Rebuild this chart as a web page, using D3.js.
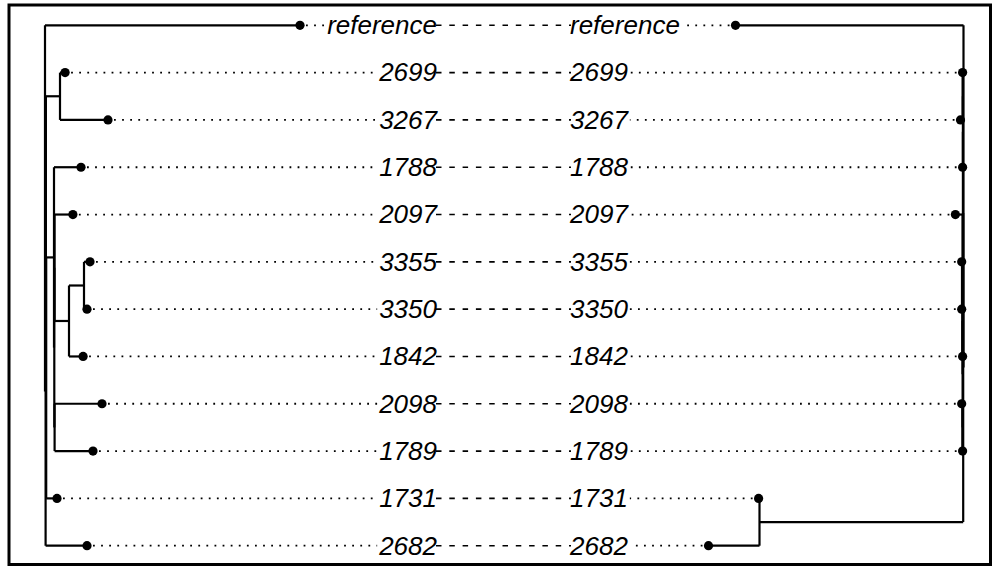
<!DOCTYPE html>
<html>
<head>
<meta charset="utf-8">
<script src="https://cdn.jsdelivr.net/npm/d3@7"></script>
<style>
  body { margin: 0; background: #fff; }
  svg { display: block; }
  .lbl { font-family: "Liberation Sans", Arial, sans-serif; font-style: italic; font-size: 26px; fill: #000; }
</style>
</head>
<body>
<svg id="plot" width="999" height="566"></svg>
<script>

// leaf labels, top to bottom (same order in both trees)
var labels = ["reference", "2699", "3267", "1788", "2097", "3355",
              "3350", "1842", "2098", "1789", "1731", "2682"];

// left tree: [id, parent, distance from root]
var leftNodes = [
    ["L0", null, 0],
    ["reference", "L0", 0.085],
    ["L1", "L0", 0.0002],
    ["L2", "L1", 0.0003],
    ["2682", "L1", 0.014],
    ["LA", "L2", 0.005],
    ["2699", "LA", 0.0067],
    ["3267", "LA", 0.021],
    ["LX", "L2", 0.0004],
    ["LB", "LX", 0.003],
    ["1731", "LX", 0.004],
    ["1788", "LB", 0.012],
    ["LB2", "LB", 0.0031],
    ["LB3", "LB2", 0.0032],
    ["2097", "LB3", 0.0093],
    ["LC", "LB3", 0.008],
    ["LC1", "LC", 0.013],
    ["3355", "LC1", 0.015],
    ["3350", "LC1", 0.014],
    ["1842", "LC", 0.0127],
    ["LB4", "LB2", 0.0032],
    ["2098", "LB4", 0.019],
    ["1789", "LB4", 0.016]
];

// right tree: [id, parent, distance from root]
var rightNodes = [
    ["R0", null, 0],
    ["reference", "R0", 0.076],
    ["R1", "R0", 0.0001],
    ["R2", "R1", 0.0002],
    ["RD", "R1", 0.068],
    ["R3", "R2", 0.0002],
    ["R4", "R2", 0.0003],
    ["RA", "R3", 0.0003],
    ["1788", "R3", 0.0003],
    ["2699", "RA", 0.0003],
    ["3267", "RA", 0.001],
    ["2097", "R4", 0.0027],
    ["RP", "R4", 0.0003],
    ["RP1", "RP", 0.0004],
    ["RP2", "RP", 0.0004],
    ["RQ", "RP1", 0.0005],
    ["3355", "RQ", 0.0006],
    ["3350", "RQ", 0.0006],
    ["1842", "RP1", 0.0003],
    ["2098", "RP2", 0.0006],
    ["1789", "RP2", 0.0003],
    ["1731", "RD", 0.0683],
    ["2682", "RD", 0.085]
];

d3.select(window).on('load', init);

function init() {
    var svg = d3.select('#plot');

    svg.append('rect')
        .attr('x', 9).attr('y', 5)
        .attr('width', 981.5).attr('height', 559.5)
        .attr('fill', 'none')
        .attr('stroke', '#000')
        .attr('stroke-width', 3);

    var yScale = d3.scalePoint()
        .domain(labels)
        .range([25.3, 545.7]);

    var xLeft = d3.scaleLinear().domain([0, 0.1]).range([45, 345]);
    var xRight = d3.scaleLinear().domain([0, 0.1]).range([963.5, 663.5]);

    var leftRoot = build_tree(leftNodes, yScale);
    var rightRoot = build_tree(rightNodes, yScale);

    draw_tree(svg, leftRoot, xLeft);
    draw_tree(svg, rightRoot, xRight);

    var leftEnd = 437, rightStart = 570;
    var g = svg.append('g');

    labels.forEach(function(name) {
        var y = yScale(name);

        var tl = g.append('text')
            .attr('class', 'lbl')
            .attr('x', leftEnd)
            .attr('y', y)
            .attr('dy', '0.34em')
            .attr('text-anchor', 'end')
            .text(name);
        var tr = g.append('text')
            .attr('class', 'lbl')
            .attr('x', rightStart)
            .attr('y', y)
            .attr('dy', '0.34em')
            .text(name);

        var wl = tl.node().getComputedTextLength();
        var wr = tr.node().getComputedTextLength();

        var lLeaf = leftRoot.leaves().find(function(d){ return d.id === name; });
        var rLeaf = rightRoot.leaves().find(function(d){ return d.id === name; });

        // dotted leader lines
        g.append('line')
            .attr('x1', xLeft(lLeaf.dist) + 6).attr('x2', leftEnd - wl - 2)
            .attr('y1', y).attr('y2', y)
            .attr('stroke', '#000').attr('stroke-width', 1.8)
            .attr('stroke-dasharray', '1.8,6.3');
        g.append('line')
            .attr('x1', xRight(rLeaf.dist) - 6).attr('x2', rightStart + wr + 2)
            .attr('y1', y).attr('y2', y)
            .attr('stroke', '#000').attr('stroke-width', 1.8)
            .attr('stroke-dasharray', '1.8,6.3');

        // dashed connector between the two labels
        g.append('line')
            .attr('x1', leftEnd - 1).attr('x2', rightStart + 1)
            .attr('y1', y).attr('y2', y)
            .attr('stroke', '#000').attr('stroke-width', 1.6)
            .attr('stroke-dasharray', '5.5,7.8');
    });
}

function build_tree(nodes, yScale) {
    var root = d3.stratify()
        .id(function(d){ return d[0]; })
        .parentId(function(d){ return d[1]; })(nodes);

    root.each(function(d){ d.dist = d.data[2]; });
    root.eachAfter(function(d){
        if (d.children) {
            d.y = d3.mean(d.children, function(c){ return c.y; });
        } else {
            d.y = yScale(d.id);
        }
    });
    return root;
}

function draw_tree(svg, root, xScale) {
    var g = svg.append('g')
        .attr('fill', 'none')
        .attr('stroke', '#000')
        .attr('stroke-width', 2.2);

    // vertical bar of each inner node
    g.selectAll('line.v')
        .data(root.descendants().filter(function(d){ return d.children; }))
        .enter()
        .append('line')
        .attr('class', 'v')
        .attr('x1', function(d){ return xScale(d.dist); })
        .attr('x2', function(d){ return xScale(d.dist); })
        .attr('y1', function(d){ return d.children[0].y; })
        .attr('y2', function(d){ return d.children[d.children.length - 1].y; });

    // horizontal branch from parent to node
    g.selectAll('line.h')
        .data(root.descendants().filter(function(d){ return d.parent; }))
        .enter()
        .append('line')
        .attr('class', 'h')
        .attr('x1', function(d){ return xScale(d.parent.dist); })
        .attr('x2', function(d){ return xScale(d.dist); })
        .attr('y1', function(d){ return d.y; })
        .attr('y2', function(d){ return d.y; });

    svg.append('g')
        .selectAll('circle')
        .data(root.leaves())
        .enter()
        .append('circle')
        .attr('r', 4.6)
        .attr('cx', function(d){ return xScale(d.dist); })
        .attr('cy', function(d){ return d.y; })
        .attr('fill', '#000');
}
</script>
</body>
</html>
